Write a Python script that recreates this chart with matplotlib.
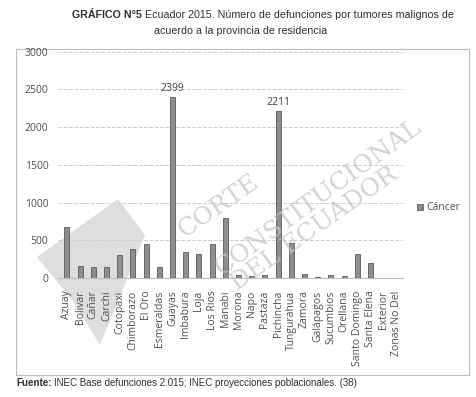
import matplotlib
matplotlib.use("Agg")
import matplotlib.pyplot as plt
from matplotlib.patches import Rectangle, Polygon

provincias = ["Azuay", "Bolivar", "Cañar", "Carchi", "Cotopaxi", "Chimborazo", "El Oro",
              "Esmeraldas", "Guayas", "Imbabura", "Loja", "Los Rios", "Manabi", "Morona",
              "Napo", "Pastaza", "Pichincha", "Tungurahua", "Zamora", "Galápagos",
              "Sucumbios", "Orellana", "Santo Domingo", "Santa Elena", "Exterior", "Zonas No Del"]
cancer = [677, 159, 146, 146, 301, 390, 447, 146, 2399, 345, 324, 447, 802, 45, 32, 45,
          2211, 465, 58, 10, 40, 30, 315, 204, 0, 0]
etiquetas = {"Guayas": 2399, "Pichincha": 2211}
yticks = [0, 500, 1000, 1500, 2000, 2500, 3000]

W, H = 477, 397
def fx(px): return px / W
def fy(py): return 1 - py / H

fig = plt.figure(figsize=(4.77, 3.97), dpi=100)
fig.patch.set_facecolor("white")

# chart frame
fig.patches.append(Rectangle((fx(16), fy(375)), (469 - 16) / W, (375 - 49) / H,
                             transform=fig.transFigure, fill=False, edgecolor="#bdbdbd", lw=0.8))

# watermark shape (behind the axes)
fig.patches.append(Polygon([(fx(37), fy(257)), (fx(118), fy(199)), (fx(145), fy(235)),
                            (fx(100), fy(345)), (fx(72), fy(300))], closed=True,
                           transform=fig.transFigure, facecolor="#dedede", edgecolor="none",
                           zorder=0))

ax = fig.add_axes([fx(58), fy(278), (403 - 58) / W, (278 - 51.7) / H])
ax.set_zorder(2)
ax.patch.set_alpha(0)
x = list(range(len(provincias)))
ax.bar(x, cancer, width=0.38, color="#8e8e8e", edgecolor="#5a5a5a", linewidth=0.6,
       label="Cáncer", zorder=3)
for name, v in etiquetas.items():
    i = provincias.index(name)
    ax.text(i, v + 45, str(v), ha="center", va="bottom", fontsize=7.5, color="#404040",
            family="Open Sans")
ax.set_ylim(0, 3000)
ax.set_xlim(-0.68, 25.46)
ax.set_yticks(yticks)
ax.set_yticklabels([str(t) for t in yticks], fontsize=7.5, color="#505050", family="Open Sans")
ax.set_xticks(x)
ax.set_xticklabels(provincias, rotation=90, fontsize=7.5, color="#505050", family="Open Sans")
ax.tick_params(axis="y", length=0, pad=7)
ax.tick_params(axis="x", length=0, pad=9)
ax.grid(axis="y", color="#cfcfcf", lw=0.7, ls=(0, (4, 1.5)))
ax.set_axisbelow(True)
for s in ["top", "right", "left"]:
    ax.spines[s].set_visible(False)
ax.spines["bottom"].set_color("#bdbdbd")

# legend
fig.patches.append(Rectangle((fx(417), fy(210)), 6 / W, 6 / H, transform=fig.transFigure,
                             facecolor="#8e8e8e", edgecolor="#5a5a5a", lw=0.6))
fig.text(fx(426), fy(207), "Cáncer", fontsize=7.5, color="#505050", va="center",
         family="Open Sans")

# watermark text
wm = dict(fontsize=18, color="#c4c4c4", family="DejaVu Serif", ha="center", va="center",
          alpha=0.75, zorder=5)
fig.text(fx(219), fy(206), "CORTE", rotation=35, **wm)
fig.text(fx(318), fy(198), "CONSTITUCIONAL", rotation=36, **wm)
fig.text(fx(314), fy(229), "DEL ECUADOR", rotation=35, **wm)

# title
tsize = 7.7
fig.canvas.draw()
r = fig.canvas.get_renderer()
bold = fig.text(fx(72), fy(15), "GRÁFICO N°5", fontsize=tsize, fontweight="bold",
                family="Liberation Sans", color="#303030", va="center")
bb = bold.get_window_extent(renderer=r)
fig.text(fx(bb.x1 + 3), fy(15), "Ecuador 2015. Número de defunciones por tumores malignos de",
         fontsize=tsize, family="Liberation Sans", color="#303030", va="center")
fig.text(fx(241), fy(31), "acuerdo a la provincia de residencia", fontsize=tsize,
         family="Liberation Sans", color="#303030", va="center", ha="center")

# footer
fsize = 7
fb = fig.text(fx(16), fy(383), "Fuente:", fontsize=fsize, fontweight="bold",
              family="Liberation Sans", color="#303030", va="center")
fbb = fb.get_window_extent(renderer=r)
fig.text(fx(fbb.x1 + 3), fy(383),
         "INEC Base defunciones 2.015; INEC proyecciones poblacionales. (38)",
         fontsize=fsize, family="Liberation Sans", color="#303030", va="center")

fig.savefig("out.png", dpi=100)
